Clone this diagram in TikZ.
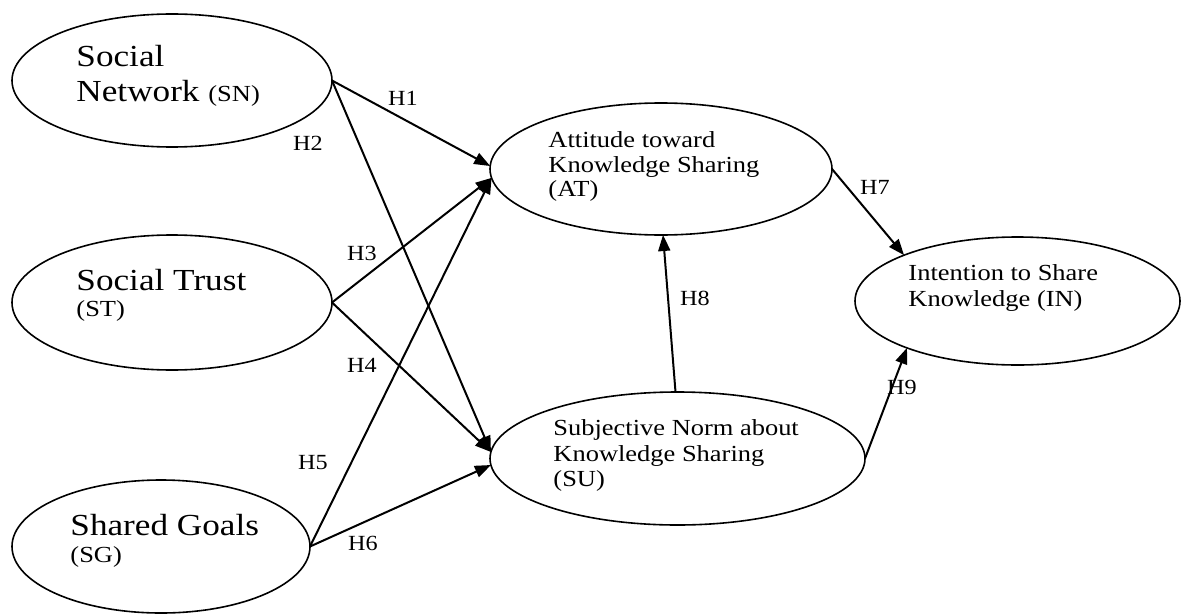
\documentclass[tikz,border=0pt]{standalone}
\usepackage{fontspec}
\setmainfont{Liberation Serif}
\usetikzlibrary{shapes.geometric,arrows.meta}

\tikzset{
  construct/.style={ellipse, draw, line width=0.8pt, inner sep=0pt, outer sep=0pt},
  bigtext/.style={anchor=base west, inner sep=0pt, xscale=1.15, font=\fontsize{15.3}{17}\selectfont},
  smalltext/.style={anchor=base west, inner sep=0pt, xscale=1.15, font=\fontsize{11.5}{12}\selectfont},
  hlabel/.style={inner sep=0pt, xscale=1.12, font=\fontsize{10.8}{11}\selectfont},
  path/.style={draw, line width=1pt, -{Triangle[length=8pt,width=6pt]}}
}

\begin{document}
\begin{tikzpicture}[x=0.5pt, y=-0.5pt]
  \useasboundingbox (0,0) rectangle (1181,615);

  % latent constructs
  \node[construct, minimum width=160pt, minimum height=66.5pt] (SN) at (172,80.5) {};
  \node[construct, minimum width=160pt, minimum height=67.5pt] (ST) at (172,302.5) {};
  \node[construct, minimum width=149pt, minimum height=66.5pt] (SG) at (161,546.5) {};
  \node[construct, minimum width=171pt, minimum height=66pt] (AT) at (661,169) {};
  \node[construct, minimum width=187.5pt, minimum height=66.5pt] (SU) at (677.5,458.5) {};
  \node[construct, minimum width=162.5pt, minimum height=64pt] (IN) at (1017.5,301) {};

  % construct names
  \node[bigtext] (snA) at (76,67) {Social};
  \node[bigtext] (snB) at (76,102) {Network \fontsize{11.5}{12}\selectfont(SN)};
  \node[bigtext] (stA) at (76,290) {Social Trust};
  \node[smalltext] (stB) at (76,316) {(ST)};
  \node[bigtext] (sgA) at (70,535) {Shared Goals};
  \node[smalltext] (sgB) at (70,562) {(SG)};
  \node[smalltext] (atA) at (548,147) {Attitude toward};
  \node[smalltext] (atB) at (548,172) {Knowledge Sharing};
  \node[smalltext] (atC) at (548,196) {(AT)};
  \node[smalltext] (suA) at (553,435) {Subjective Norm about};
  \node[smalltext] (suB) at (553,461) {Knowledge Sharing};
  \node[smalltext] (suC) at (553,486) {(SU)};
  \node[smalltext] (inA) at (908,280) {Intention to Share};
  \node[smalltext] (inB) at (908,306) {Knowledge (IN)};

  % hypothesised paths
  \path[path] (SN.east) -- (AT.179);
  \path[path] (SN.east) -- (SU.178);
  \path[path] (ST.east) -- (AT.183);
  \path[path] (ST.east) -- (SU.178);
  \path[path] (SG.east) -- (AT.183);
  \path[path] (SG.east) -- (SU.182);
  \path[path] (AT.east) -- (IN.158);
  \path[path] ([xshift=-1pt]SU.north) -- ([xshift=1pt]AT.south);
  \path[path] (SU.east) -- (IN.203);

  % path labels
  \node[hlabel] (h1) at (403,98) {H1};
  \node[hlabel] (h2) at (308,143) {H2};
  \node[hlabel] (h3) at (362,253) {H3};
  \node[hlabel] (h4) at (362,365) {H4};
  \node[hlabel] (h5) at (313,463) {H5};
  \node[hlabel] (h6) at (363,543) {H6};
  \node[hlabel] (h7) at (875,187) {H7};
  \node[hlabel] (h8) at (695,298) {H8};
  \node[hlabel] (h9) at (902,387) {H9};
\end{tikzpicture}
\end{document}
